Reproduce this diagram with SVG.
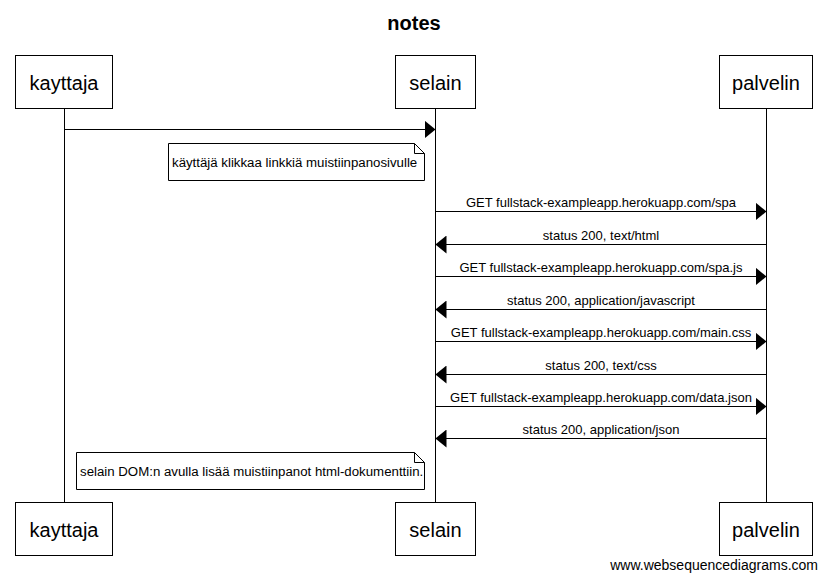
<svg xmlns="http://www.w3.org/2000/svg" width="827" height="580" viewBox="0 0 827 580">
<defs>
<style>
.bg{fill:#fff}
.actor rect{fill:#fff;stroke:#000;stroke-width:1}
.actor text{font-family:"Liberation Sans",Arial,sans-serif;font-size:20px;fill:#000;text-anchor:middle}
.life{stroke:#000;stroke-width:1;fill:none}
.msg line{stroke:#000;stroke-width:1}
.msg text{font-family:"Liberation Sans",Arial,sans-serif;font-size:13px;fill:#000;text-anchor:middle}
.note path{fill:#fff;stroke:#000;stroke-width:1}
.note text{font-family:"Liberation Sans",Arial,sans-serif;font-size:13.25px;fill:#000}
.title{font-family:"Liberation Sans",Arial,sans-serif;font-size:20px;font-weight:bold;text-anchor:middle}
.footer{font-family:"Liberation Sans",Arial,sans-serif;font-size:14px;text-anchor:end}
</style>
<marker id="ah" viewBox="0 0 11 18" refX="11" refY="9" markerWidth="11" markerHeight="18" markerUnits="userSpaceOnUse" orient="auto">
<path d="M0,0 L11,9 L0,18 Z" fill="#000"/>
</marker>
</defs>
<rect class="bg" x="0" y="0" width="827" height="580"/>
<text class="title" x="414" y="30">notes</text>

<g id="lifelines">
<line class="life" x1="64.5" y1="108" x2="64.5" y2="502"/>
<line class="life" x1="435.5" y1="108" x2="435.5" y2="502"/>
<line class="life" x1="766.5" y1="108" x2="766.5" y2="502"/>
</g>

<g id="kayttaja" class="actor">
<rect x="15.5" y="55.5" width="97" height="53"/>
<text x="64" y="90">kayttaja</text>
<rect x="15.5" y="502.5" width="97" height="53"/>
<text x="64" y="537">kayttaja</text>
</g>
<g id="selain" class="actor">
<rect x="395.5" y="55.5" width="80" height="53"/>
<text x="435.5" y="90">selain</text>
<rect x="395.5" y="502.5" width="80" height="53"/>
<text x="435.5" y="537">selain</text>
</g>
<g id="palvelin" class="actor">
<rect x="719.5" y="55.5" width="93" height="53"/>
<text x="766" y="90">palvelin</text>
<rect x="719.5" y="502.5" width="93" height="53"/>
<text x="766" y="537">palvelin</text>
</g>

<g id="connectors" class="msg">
<line x1="64.5" y1="129.5" x2="435.5" y2="129.5" marker-end="url(#ah)"/>
<line x1="435.5" y1="211.5" x2="766.5" y2="211.5" marker-end="url(#ah)"/>
<text x="601" y="207">GET fullstack-exampleapp.herokuapp.com/spa</text>
<line x1="766.5" y1="244.5" x2="435.5" y2="244.5" marker-end="url(#ah)"/>
<text x="601" y="240">status 200, text/html</text>
<line x1="435.5" y1="276.5" x2="766.5" y2="276.5" marker-end="url(#ah)"/>
<text x="601" y="272">GET fullstack-exampleapp.herokuapp.com/spa.js</text>
<line x1="766.5" y1="309.5" x2="435.5" y2="309.5" marker-end="url(#ah)"/>
<text x="601" y="305">status 200, application/javascript</text>
<line x1="435.5" y1="341.5" x2="766.5" y2="341.5" marker-end="url(#ah)"/>
<text x="601" y="337">GET fullstack-exampleapp.herokuapp.com/main.css</text>
<line x1="766.5" y1="374.5" x2="435.5" y2="374.5" marker-end="url(#ah)"/>
<text x="601" y="370">status 200, text/css</text>
<line x1="435.5" y1="406.5" x2="766.5" y2="406.5" marker-end="url(#ah)"/>
<text x="601" y="402">GET fullstack-exampleapp.herokuapp.com/data.json</text>
<line x1="766.5" y1="438.5" x2="435.5" y2="438.5" marker-end="url(#ah)"/>
<text x="601" y="434">status 200, application/json</text>
</g>

<g id="note1" class="note">
<path d="M168.5,143.5 H414.5 L424.5,153.5 V180.5 H168.5 Z M414.5,143.5 V153.5 H424.5"/>
<text x="172" y="167">käyttäjä klikkaa linkkiä muistiinpanosivulle</text>
</g>
<g id="note2" class="note">
<path d="M76.5,452.5 H414.5 L424.5,462.5 V489.5 H76.5 Z M414.5,452.5 V462.5 H424.5"/>
<text x="80" y="476">selain DOM:n avulla lisää muistiinpanot html-dokumenttiin.</text>
</g>

<text class="footer" x="818" y="570">www.websequencediagrams.com</text>
</svg>
